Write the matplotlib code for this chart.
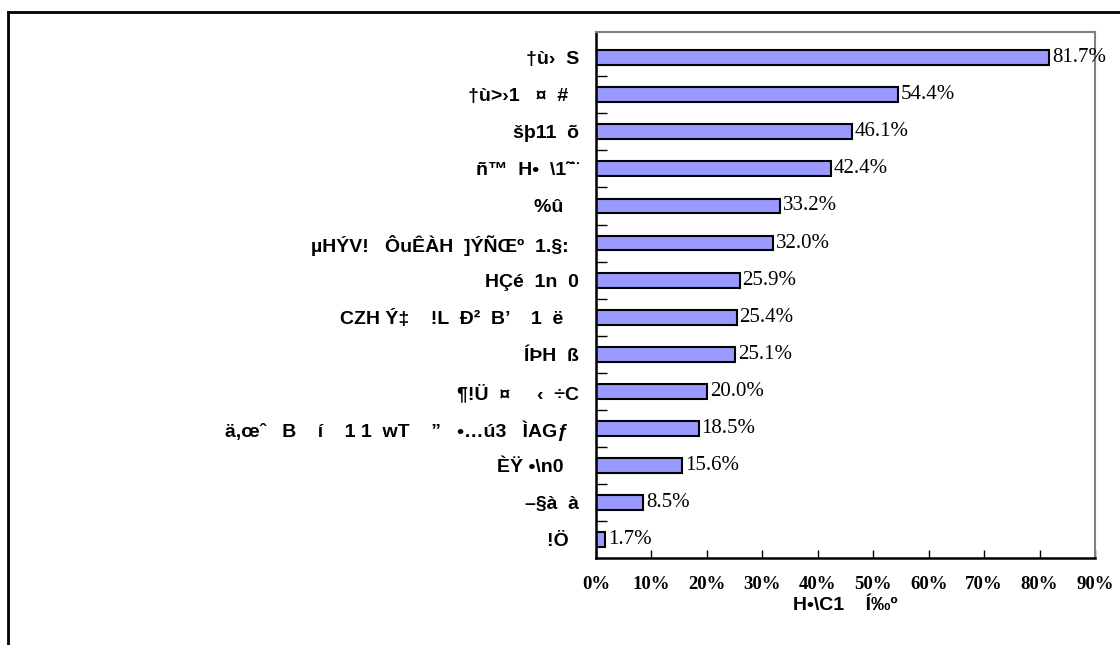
import matplotlib
matplotlib.use("Agg")
import matplotlib.pyplot as plt
from matplotlib.lines import Line2D

# category labels, top to bottom (as they appear in the source)
labels = [
    "†ù›  S",
    "†ù>›1   ¤  #  ",
    "šþ11  õ",
    "ñ™  H•  \\1˜¨",
    "%û   ",
    "µHÝV!   ÔuÊÀH  ]ÝÑŒº  1.§:  ",
    "HÇé  1n  0",
    "CZH Ý‡    !L  Ð²  B’    1  ë   ",
    "ÍÞH  ß",
    "¶!Ü  ¤     ‹  ÷C",
    "ä,œˆ   B    í    1 1  wT    ”   •…ú3   ÌAGƒ  ",
    "ÈŸ •\\n0   ",
    "–§à  à",
    "!Ö  ",
]
values = [81.7, 54.4, 46.1, 42.4, 33.2, 32.0, 25.9, 25.4, 25.1, 20.0, 18.5, 15.6, 8.5, 1.7]
x_ticks = [0, 10, 20, 30, 40, 50, 60, 70, 80, 90]
x_label = "H•\\C1    Í‰º"

sans = ["Liberation Sans", "DejaVu Sans"]
serif = ["Liberation Serif", "DejaVu Serif"]

fig = plt.figure(figsize=(11.2, 6.45), dpi=100)
ax = fig.add_axes([596 / 1120, 1 - 558 / 645, (1095 - 596) / 1120, (558 - 32) / 645])

pos = list(range(len(values)))
ax.barh(pos, values, height=0.4, color="#9999FF", edgecolor="black", linewidth=1.5)

# value labels
for y, v in zip(pos, values):
    ax.text(v + 0.5, y, f"{v:.1f}%", va="center", ha="left",
            family=serif, fontsize=15)

ax.set_xlim(0, 90)
ax.set_ylim(13.49, -0.69)

ax.set_xticks(x_ticks)
ax.set_xticklabels([f"{t}%" for t in x_ticks], family=serif, fontweight="bold", fontsize=13.5)
ax.tick_params(axis="x", direction="in", length=6, width=1, pad=13)

ax.set_yticks(pos)
ax.set_yticklabels(labels, family=sans, fontweight="bold", fontsize=14)
ax.tick_params(axis="y", which="major", length=0, pad=12)
ax.set_yticks([p + 0.5 for p in pos[:-1]], minor=True)
ax.tick_params(axis="y", which="minor", direction="in", length=8, width=1)

ax.set_xlabel(x_label, family=sans, fontweight="bold", fontsize=14, labelpad=3)

ax.spines["left"].set_linewidth(1.8)
ax.spines["bottom"].set_linewidth(1.8)
ax.spines["right"].set_color("#808080")
ax.spines["top"].set_color("#808080")
ax.spines["right"].set_linewidth(1.5)
ax.spines["top"].set_linewidth(1.5)

# outer frame (cut at right/bottom)
fig.add_artist(Line2D([8 / 1120, 1.0], [1 - 12 / 645, 1 - 12 / 645], color="black", lw=2,
                      transform=fig.transFigure))
fig.add_artist(Line2D([8 / 1120, 8 / 1120], [0, 1 - 12 / 645], color="black", lw=2,
                      transform=fig.transFigure))

fig.savefig("out.png", dpi=100)
